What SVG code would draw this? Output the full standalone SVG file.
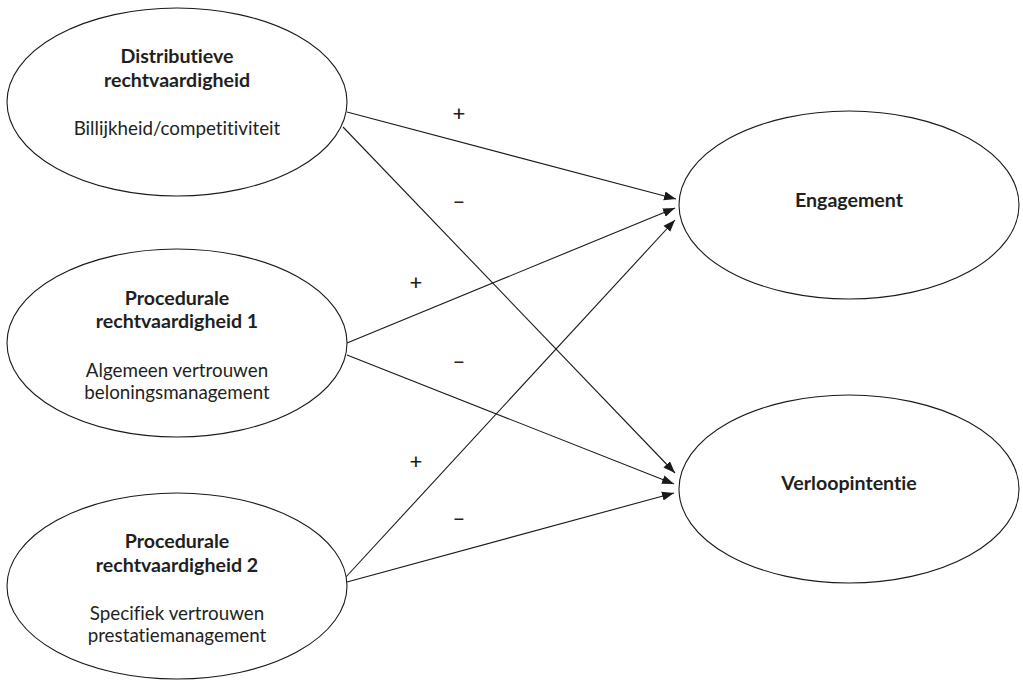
<svg xmlns="http://www.w3.org/2000/svg" width="1023" height="681" viewBox="0 0 1023 681">
<style>
.node ellipse{fill:#fff;stroke:#1a1a1a;stroke-width:1.1}
text{font-family:Lato,"Noto Sans","Liberation Sans",sans-serif;fill:#231f20;text-anchor:middle;font-variant-ligatures:none;font-feature-settings:"liga" 0}
.t{font-size:19.6px;font-weight:bold}
.s{font-size:18.8px}
.lbl{font-size:22px;font-weight:500}
.edges line{stroke:#1a1a1a;stroke-width:1.1;marker-end:url(#ah)}
</style>
<defs>
<marker id="ah" markerUnits="userSpaceOnUse" markerWidth="14" markerHeight="10" refX="12" refY="5" orient="auto">
<path d="M0,0.5 L12,5 L0,9.5 Z" fill="#1a1a1a"/>
</marker>
</defs>
<rect width="1023" height="681" fill="#fff"/>
<g class="edges">
<line x1="347" y1="112" x2="676" y2="199"/>
<line x1="343" y1="127" x2="675" y2="473"/>
<line x1="347" y1="343" x2="675" y2="208"/>
<line x1="347" y1="355" x2="674" y2="484"/>
<line x1="345" y1="578" x2="675" y2="220"/>
<line x1="347" y1="582" x2="674" y2="493"/>
</g>
<g class="labels">
<text class="lbl" x="459" y="121">+</text>
<text class="lbl" x="459" y="209">–</text>
<text class="lbl" x="416" y="290">+</text>
<text class="lbl" x="459" y="369">–</text>
<text class="lbl" x="416" y="469">+</text>
<text class="lbl" x="459" y="526">–</text>
</g>
<g id="distributieve" class="node">
<ellipse cx="177" cy="102" rx="170" ry="94"/>
<text class="t" x="177" y="63">Distributieve</text>
<text class="t" x="177" y="87">rechtvaardigheid</text>
<text class="s" x="177" y="135">Billijkheid/competitiviteit</text>
</g>
<g id="procedurale1" class="node">
<ellipse cx="177" cy="343" rx="170" ry="94"/>
<text class="t" x="177" y="305">Procedurale</text>
<text class="t" x="177" y="328">rechtvaardigheid 1</text>
<text class="s" x="177" y="377">Algemeen vertrouwen</text>
<text class="s" x="177" y="399">beloningsmanagement</text>
</g>
<g id="procedurale2" class="node">
<ellipse cx="177" cy="586" rx="170" ry="93"/>
<text class="t" x="177" y="548">Procedurale</text>
<text class="t" x="177" y="572">rechtvaardigheid 2</text>
<text class="s" x="177" y="620">Specifiek vertrouwen</text>
<text class="s" x="177" y="642">prestatiemanagement</text>
</g>
<g id="engagement" class="node">
<ellipse cx="849" cy="205" rx="170" ry="94"/>
<text class="t" x="849" y="207">Engagement</text>
</g>
<g id="verloopintentie" class="node">
<ellipse cx="849" cy="489" rx="170" ry="94"/>
<text class="t" x="849" y="490">Verloopintentie</text>
</g>
</svg>
